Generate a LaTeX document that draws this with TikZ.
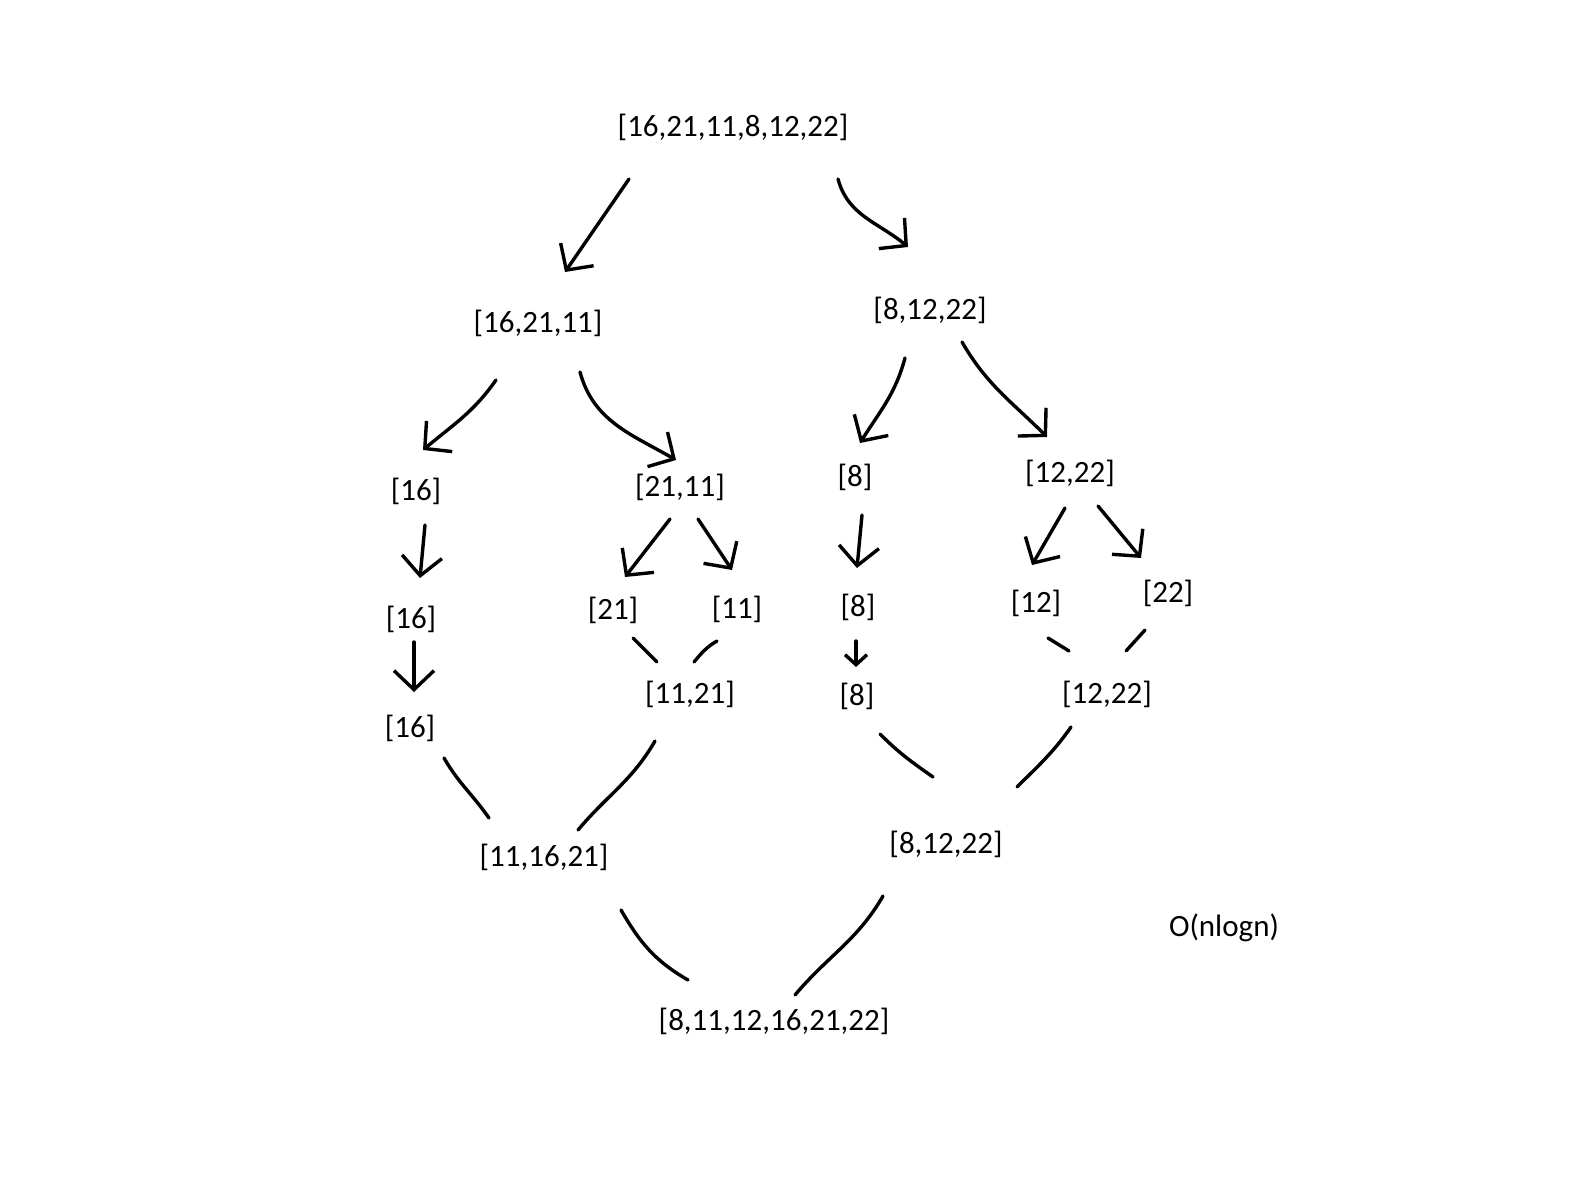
\documentclass[tikz,border=0pt]{standalone}
\usepackage{fontspec}
\setmainfont{Carlito}
\usetikzlibrary{arrows.meta}
\begin{document}
\begin{tikzpicture}[x=1pt,y=1pt,
  lbl/.style={inner sep=0pt,font=\fontsize{31}{37}\selectfont},
  ln/.style={line width=3.4pt,line cap=round,line join=round},
  arr/.style={ln,-{Straight Barb[length=19pt,width=40pt,line width=3.4pt]}},
  sarr/.style={ln,-{Straight Barb[length=10pt,width=22pt,line width=3.4pt]}}]
\useasboundingbox (0,0) rectangle (1593,-1180);
% nodes
\node[lbl] (t)   at (733,-127) {[16,21,11,8,12,22]};
\node[lbl] (a)   at (538,-323) {[16,21,11]};
\node[lbl] (b)   at (930,-310) {[8,12,22]};
\node[lbl] (a1)  at (416,-491) {[16]};
\node[lbl] (a2)  at (680,-487) {[21,11]};
\node[lbl] (b1)  at (855,-477) {[8]};
\node[lbl] (b2)  at (1070,-473) {[12,22]};
\node[lbl] (a1b) at (411,-619) {[16]};
\node[lbl] (a21) at (613,-610) {[21]};
\node[lbl] (a22) at (737,-609) {[11]};
\node[lbl] (b1b) at (858,-607) {[8]};
\node[lbl] (b21) at (1036,-603) {[12]};
\node[lbl] (b22) at (1168,-593) {[22]};
\node[lbl] (a1c) at (410,-728) {[16]};
\node[lbl] (a2m) at (690,-694) {[11,21]};
\node[lbl] (b1c) at (857,-696) {[8]};
\node[lbl] (b2m) at (1107,-694) {[12,22]};
\node[lbl] (am)  at (544,-857) {[11,16,21]};
\node[lbl] (bm)  at (946,-844) {[8,12,22]};
\node[lbl] (r)   at (774,-1021) {[8,11,12,16,21,22]};
\node[lbl] (o)   at (1224,-928) {O(nlogn)};
% splitting arrows
\draw[arr] ([shift={(-104,-52)}]t.center) -- ([shift={(27,51)}]a.center);
\draw[arr] ([shift={(105,-52)}]t.center) to[out=-75,in=140] ([shift={(-22,63)}]b.center);
\draw[arr] ([shift={(-42,-57)}]a.center) to[out=-125,in=40] ([shift={(7,41)}]a1.center);
\draw[arr] ([shift={(42,-49)}]a.center) to[out=-75,in=150] ([shift={(-4,27)}]a2.center);
\draw[arr] ([shift={(-25,-48)}]b.center) to[out=-105,in=58] ([shift={(5,34)}]b1.center);
\draw[arr] ([shift={(32,-32)}]b.center) to[out=-60,in=135] ([shift={(-23,36)}]b2.center);
\draw[arr] ([shift={(9,-34)}]a1.center) -- ([shift={(9,41)}]a1b.center);
\draw[arr] ([shift={(-10,-32)}]a2.center) -- ([shift={(12,33)}]a21.center);
\draw[arr] ([shift={(18,-32)}]a2.center) -- ([shift={(-5,39)}]a22.center);
\draw[arr] ([shift={(7,-38)}]b1.center) -- ([shift={(-1,39)}]b1b.center);
\draw[arr] ([shift={(-5,-35)}]b2.center) -- ([shift={(-4,38)}]b21.center);
\draw[arr] ([shift={(28,-33)}]b2.center) -- ([shift={(-27,35)}]b22.center);
\draw[arr] ([shift={(3,-23)}]a1b.center) -- ([shift={(4,36)}]a1c.center);
\draw[sarr] ([shift={(-2,-34)}]b1b.center) -- ([shift={(-1,29)}]b1c.center);
% merging lines
\draw[ln] ([shift={(20,-28)}]a21.center) -- ([shift={(-33,32)}]a2m.center);
\draw[ln] ([shift={(-20,-32)}]a22.center) to[out=-150,in=50] ([shift={(4,32)}]a2m.center);
\draw[ln] ([shift={(12,-35)}]b21.center) -- ([shift={(-38,43)}]b2m.center);
\draw[ln] ([shift={(-23,-37)}]b22.center) -- ([shift={(19,43)}]b2m.center);
\draw[ln] ([shift={(34,-30)}]a1c.center) to[out=-60,in=125] ([shift={(-55,39)}]am.center);
\draw[ln] ([shift={(-35,-47)}]a2m.center) to[out=-120,in=50] ([shift={(34,27)}]am.center);
\draw[ln] ([shift={(23,-38)}]b1c.center) to[out=-45,in=145] ([shift={(-13,67)}]bm.center);
\draw[ln] ([shift={(-36,-33)}]b2m.center) to[out=-125,in=45] ([shift={(71,57)}]bm.center);
\draw[ln] ([shift={(77,-53)}]am.center) to[out=-60,in=150] ([shift={(-86,41)}]r.center);
\draw[ln] ([shift={(-63,-52)}]bm.center) to[out=-120,in=50] ([shift={(21,26)}]r.center);
\end{tikzpicture}
\end{document}
